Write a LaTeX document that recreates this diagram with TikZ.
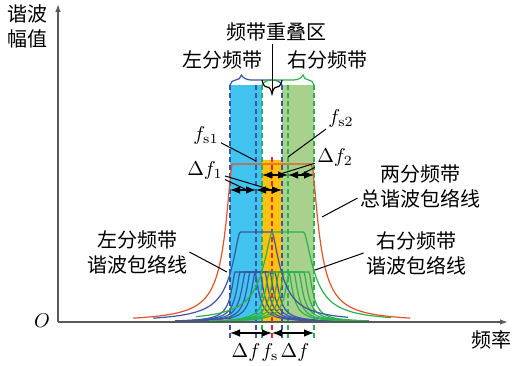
\documentclass[tikz,border=0pt]{standalone}
\usepackage{amsmath}
\usepackage{fontspec}
\newfontfamily\cjk{Noto Sans CJK SC}
\usepackage{tikz}
\usetikzlibrary{arrows.meta,decorations.pathreplacing,calc}
\definecolor{skyfill}{HTML}{41C4F0}
\definecolor{amberfill}{HTML}{FFC20E}
\definecolor{leaffill}{HTML}{A9D18E}
\definecolor{rust}{HTML}{E2532B}
\definecolor{navy}{HTML}{3A56A5}
\definecolor{grass}{HTML}{2BB24C}
\definecolor{scarlet}{HTML}{E8262B}
\definecolor{axisgray}{HTML}{58595B}

\begin{document}
\begin{tikzpicture}[x=0.5pt, y=0.5pt,
  declare function={hp(\vv)=\vv*sqrt(\vv);
    env(\xv,\cv,\av,\sv,\hv)=\hv/(1+hp(max(abs(\xv-\cv)-\av,0)/\sv));},
  lbl/.style={font=\cjk\fontsize{10}{12.5}\selectfont, inner sep=1pt, align=center},
  mlbl/.style={font=\fontsize{10}{12}\selectfont, inner sep=1pt},
  curve/.style={line width=0.6pt, samples=141},
  bandedge/.style={line width=0.6pt, dash pattern=on 2.5pt off 1.5pt},
  lead/.style={black, line width=0.5pt},
  dbl/.style={black, line width=0.6pt, {Latex[length=5pt,width=3.8pt]}-{Latex[length=5pt,width=3.8pt]}},
  bandbrace/.style={decorate, line width=0.6pt, decoration={brace, amplitude=5pt, aspect=#1}},
  axis/.style={axisgray, line width=0.8pt, -{Latex[length=4pt,width=2.8pt]}}]
\useasboundingbox (-58,-43) rectangle (459,322);

% Sub-band fills
\fill[skyfill] (172,0) rectangle (204,237);
\fill[amberfill] (204,0) rectangle (224,162);
\fill[leaffill] (224,0) rectangle (256,237);

% Band edges and centres
\foreach \x in {172,198,224} \draw[navy, bandedge] (\x,237) -- (\x,-17);
\foreach \x in {204,230,256} \draw[grass, bandedge] (\x,237) -- (\x,-17);
\draw[scarlet, bandedge] (214,165) -- (214,-17);

% Harmonic components
\foreach \cx in {187,192,...,207} {
  \draw[navy, curve] plot[domain=\cx-70:\cx+70] (\x,{env(\x,\cx,10,5,50)});
}
\foreach \cx in {221,226,...,241} {
  \draw[grass, curve] plot[domain=\cx-70:\cx+70] (\x,{env(\x,\cx,10,5,50)});
}

% Sub-band envelopes
\draw[navy, curve] plot[domain=95:290] (\x,{env(\x,198,16,11,90)});
\draw[grass, curve] plot[domain=138:333] (\x,{env(\x,230,16,12,90)});

% Total envelope
\draw[rust, curve] plot[domain=75:352] (\x,{env(\x,214,40,8.5,158)});

% Axes
\coordinate (O) at (0,0);
\draw[axis] (O) -- (0,318);
\draw[axis] (O) -- (450,0);
\node[mlbl] (orig) at (-16,1) {$O$};
\node[lbl] (amp) at (-31,296) {谐波\\幅值};
\node[lbl] (freq) at (433,-18) {频率};

% Braces over the sub-bands
\draw[navy, bandbrace=0.22] (172,237) -- (224,237);
\draw[grass, bandbrace=0.79] (204,237) -- (256,237);
\draw[black, line width=0.6pt, decorate, decoration={brace, amplitude=7pt}] (224,242) -- (204,242);
\coordinate (ovtip) at (214,228);

% Band labels
\node[lbl] (lsub) at (164,262) {左分频带};
\node[lbl] (rsub) at (269,262) {右分频带};
\node[lbl] (ovl) at (218,290) {频带重叠区};
\draw[lead] (ovl.south -| ovtip) -- (ovtip);

% Centre frequencies
\node[mlbl] (fs1) at (148,187) {$f_{\mathrm{s1}}$};
\node[mlbl] (fs2) at (283,204) {$f_{\mathrm{s2}}$};
\coordinate (fs1p) at (198,161);
\coordinate (fs2p) at (230,165);
\draw[lead] (fs1) -- (fs1p);
\draw[lead] (fs2) -- (fs2p);

% Half bandwidths
\foreach \n/\x in {l/172, m/198, r/224} \coordinate (da\n) at (\x,132);
\foreach \n/\x in {l/204, m/230, r/256} \coordinate (db\n) at (\x,147);
\draw[dbl] (dal) -- (dam);
\draw[dbl] (dam) -- (dar);
\draw[dbl] (dbl) -- (dbm);
\draw[dbl] (dbm) -- (dbr);
\node[mlbl] (df1) at (147,152) {$\Delta f_1$};
\node[mlbl] (df2) at (277,165) {$\Delta f_2$};
\coordinate (df1a) at (189,132);
\coordinate (df1b) at (214,132);
\coordinate (df2a) at (219,147);
\coordinate (df2b) at (242,147);
\draw[lead] (df1) -- (df1a);
\draw[lead] (df1) -- (df1b);
\draw[lead] (df2) -- (df2a);
\draw[lead] (df2) -- (df2b);

% Bandwidth below the axis
\foreach \n/\x in {l/172, m/214, r/256} \coordinate (bw\n) at (\x,-11);
\draw[dbl] (bwl) -- (bwm);
\draw[dbl] (bwm) -- (bwr);
\node[mlbl, anchor=base] (dfl) at (188,-35) {$\Delta f$};
\node[mlbl, anchor=base] (fsc) at (212,-35) {$f_{\mathrm{s}}$};
\node[mlbl, anchor=base] (dfr) at (237,-35) {$\Delta f$};

% Envelope labels
\node[lbl] (tot) at (362,136) {两分频带\\总谐波包络线};
\node[lbl] (rtx) at (358,69) {右分频带\\谐波包络线};
\node[lbl] (ltx) at (79,70) {左分频带\\谐波包络线};
\coordinate (totp) at (264,105);
\coordinate (rtxp) at (257,52);
\coordinate (ltxp) at (169,50);
\draw[lead] ([yshift=-6pt]tot.west) -- (totp);
\draw[lead] (rtx.west) -- (rtxp);
\draw[lead] (ltx.east) -- (ltxp);

\end{tikzpicture}
\end{document}
